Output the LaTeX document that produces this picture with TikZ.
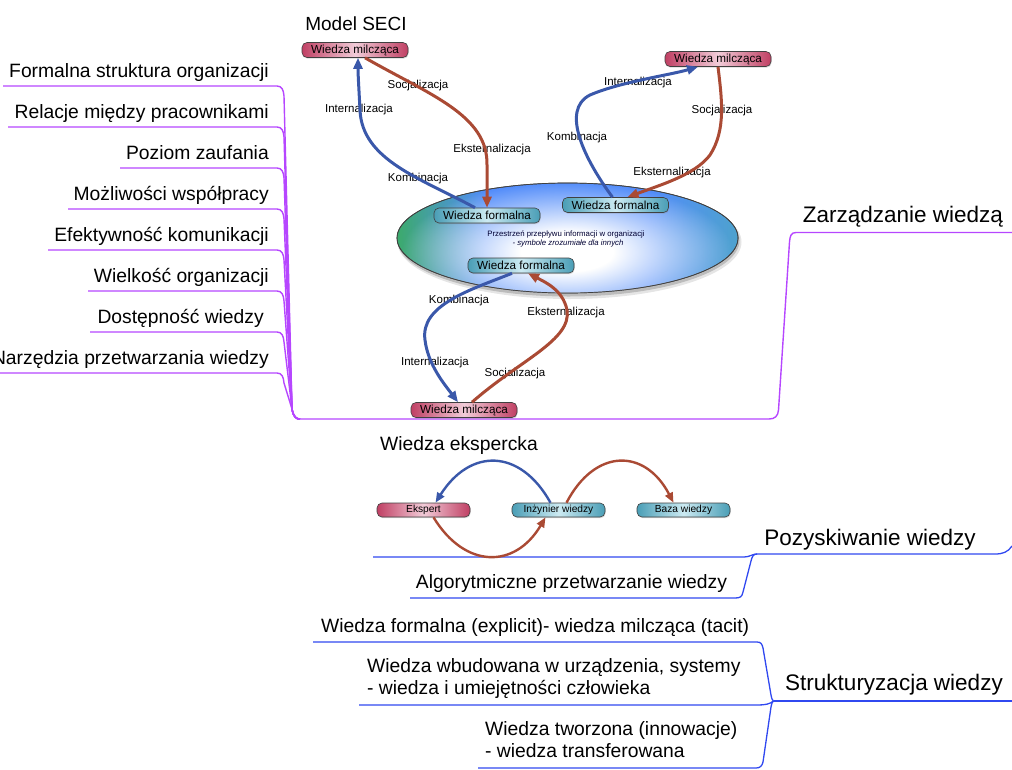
\documentclass[tikz,border=0pt]{standalone}
\usepackage{fontspec}
\setmainfont{Liberation Sans}
\usetikzlibrary{arrows.meta,shadows,fadings,shapes.geometric}

\definecolor{mmpurple}{RGB}{182,70,255}
\definecolor{mmblue}{RGB}{48,72,240}
\definecolor{arrblue}{RGB}{58,88,170}
\definecolor{arrred}{RGB}{170,74,52}
\definecolor{tacitdark}{RGB}{192,64,100}
\definecolor{tacitlight}{RGB}{242,204,216}
\definecolor{explicitdark}{RGB}{74,158,182}
\definecolor{explicitlight}{RGB}{204,234,242}
\definecolor{ellgreen}{RGB}{60,170,108}
\definecolor{ellblue}{RGB}{82,140,250}
\definecolor{ellteal}{RGB}{78,162,206}

\pgfdeclarehorizontalshading{spaceshade}{100bp}{color(0bp)=(ellgreen); color(25bp)=(ellgreen); color(38bp)=(ellblue); color(62bp)=(ellblue); color(75bp)=(ellteal); color(100bp)=(ellteal)}
% radial mask: opaque core, soft falloff towards the rim
\pgfdeclareradialshading{glowmask}{\pgfpointorigin}{color(0bp)=(pgftransparent!0); color(7bp)=(pgftransparent!0); color(25bp)=(pgftransparent!100); color(50bp)=(pgftransparent!100)}
\pgfdeclarefading{glow}{\pgfuseshading{glowmask}}

\newcommand\leaffont{\fontsize{19.3}{23}\selectfont}
\newcommand\headfont{\fontsize{22.5}{27}\selectfont}
\newcommand\cardfont{\fontsize{11.7}{14}\selectfont}
\newcommand\smallcardfont{\fontsize{10.2}{12}\selectfont}
\newcommand\flowfont{\fontsize{11.5}{14}\selectfont}
\newcommand\notefont{\fontsize{7.8}{9}\selectfont}

\tikzset{
  leaf/.style={font=\leaffont, inner sep=0pt},
  head/.style={font=\headfont, inner sep=0pt},
  card/.style={draw=black!75, line width=0.6pt, rounded corners=5pt,
    minimum height=15pt, minimum width=106pt, inner sep=0pt, font=\cardfont,
    drop shadow={shadow xshift=0.6pt, shadow yshift=-1.2pt, opacity=0.3}},
  smallcard/.style={card, minimum height=14pt, minimum width=93pt, font=\smallcardfont},
  tacit/.style={left color=tacitdark, right color=tacitdark, middle color=tacitlight},
  explicit/.style={left color=explicitdark, right color=explicitdark, middle color=explicitlight},
  flowlbl/.style={font=\flowfont, inner sep=0pt},
  bflow/.style={draw=arrblue, line width=3pt, -{Triangle[length=11pt,width=9pt]}},
  rflow/.style={draw=arrred, line width=3pt, -{Triangle[length=11pt,width=9pt]}},
  bflowthin/.style={draw=arrblue, line width=2.4pt, -{Triangle[length=10pt,width=8pt]}},
  rflowthin/.style={draw=arrred, line width=2.4pt, -{Triangle[length=10pt,width=8pt]}},
  pline/.style={draw=mmpurple, line width=1.4pt},
  bline/.style={draw=mmblue, line width=1.3pt},
}

\begin{document}
\begin{tikzpicture}[x=1pt,y=-1pt]
\useasboundingbox (0,0) rectangle (1012,769);

% ---------- Zarzadzanie wiedza : purple branch ----------
\node[head, anchor=base] (zw) at (903,222) {Zarządzanie wiedzą};
\coordinate (hub) at (300,419);
\draw[pline] (1012,232.5) -- (796,232.5) .. controls (791,232.5) and (790,236) .. (789.5,242)
  -- (778.5,410) .. controls (778,416) and (775,419) .. (769,419) -- (hub);

\node[leaf, anchor=base east] (f1) at (269,77)  {Formalna struktura organizacji};
\node[leaf, anchor=base east] (f2) at (269,118) {Relacje między pracownikami};
\node[leaf, anchor=base east] (f3) at (269,159) {Poziom zaufania};
\node[leaf, anchor=base east] (f4) at (269,200) {Możliwości współpracy};
\node[leaf, anchor=base east] (f5) at (269,241) {Efektywność komunikacji};
\node[leaf, anchor=base east] (f6) at (269,282) {Wielkość organizacji};
\node[leaf, anchor=base east] (f7) at (264,323) {Dostępność wiedzy};
\node[leaf, anchor=base east] (f8) at (269,364) {Narzędzia przetwarzania wiedzy};

\foreach \x/\y in {3/86, 8/127, 120/168, 68/209, 48/250, 88/291, 90/332, 0/373}{
  \draw[pline] (\x,\y) -- (277,\y) .. controls (282,\y) and (283.5,\y+4) .. (284,\y+10)
    -- (292,409) .. controls (293.5,417) and (296,419) .. (hub);
}

% ---------- SECI model ----------
\node[font=\fontsize{19}{23}\selectfont, inner sep=0pt, anchor=base] (seci) at (356,30) {Model SECI};

% knowledge space
\fill[black, opacity=0.10] (569.5,242) ellipse [x radius=172, y radius=57];
\fill[black, opacity=0.18] (568.5,240.5) ellipse [x radius=171, y radius=56];
\node[ellipse, draw=black!75, line width=0.7pt, shading=spaceshade,
      minimum width=341pt, minimum height=110pt, inner sep=0pt] (space) at (567.5,238) {};
\begin{scope}
  \clip (567.5,238) ellipse [x radius=170, y radius=55];
  \fill[white, path fading=glow] (567,252) ellipse [x radius=165, y radius=70];
\end{scope}
\draw[black!75, line width=0.7pt] (space.center) ellipse [x radius=170.5, y radius=55];
\node[font=\notefont, text=black!80!blue, inner sep=0pt] (sp1) at (566,234) {Przestrzeń przepływu informacji w organizacji};
\node[font=\notefont\itshape, text=black!80!blue, inner sep=0pt] (sp2) at (568,243) {- symbole zrozumiałe dla innych};

% cards
\node[card, tacit]    (tl) at (355,50)    {Wiedza milcząca};
\node[card, tacit]    (tr) at (718,59)    {Wiedza milcząca};
\node[card, tacit]    (bm) at (464,410)   {Wiedza milcząca};
\node[card, explicit] (fa) at (487,215.5) {Wiedza formalna};
\node[card, explicit] (fb) at (615.5,205) {Wiedza formalna};
\node[card, explicit] (fc) at (521,265.5) {Wiedza formalna};

% flow labels
\node[flowlbl] (s1) at (418,86)  {Socjalizacja};
\node[flowlbl] (i1) at (359,110) {Internalizacja};
\node[flowlbl] (e1) at (492,150) {Eksternalizacja};
\node[flowlbl] (k1) at (418,179) {Kombinacja};
\node[flowlbl] (i2) at (638,83)  {Internalizacja};
\node[flowlbl] (s2) at (722,111) {Socjalizacja};
\node[flowlbl] (k2) at (577,138) {Kombinacja};
\node[flowlbl] (e2) at (672,173) {Eksternalizacja};
\node[flowlbl] (k3) at (459,301) {Kombinacja};
\node[flowlbl] (e3) at (566,313) {Eksternalizacja};
\node[flowlbl] (i3) at (435,363) {Internalizacja};
\node[flowlbl] (s3) at (515,374) {Socjalizacja};

% flows
\draw[bflow] ([xshift=-12pt]fa.north) .. controls (420,178) and (362,160) .. (360,110)
  .. controls (359,90) and (358,75) .. ([xshift=3pt]tl.south);
\draw[rflow] ([xshift=10pt]tl.south) .. controls (430,95) and (488,115) .. (487,165) -- (fa.north);

\draw[bflow] ([xshift=-3pt]fb.north) .. controls (585,160) and (560,110) .. (590,95)
  .. controls (620,82) and (670,75) .. ([xshift=-20pt]tr.south);
\draw[rflow] (tr.south) .. controls (722,100) and (726,130) .. (710,155)
  .. controls (695,175) and (660,185) .. ([xshift=12pt]fb.north);

\draw[bflow] ([xshift=-9pt]fc.south) .. controls (470,290) and (420,305) .. (425,340)
  .. controls (428,365) and (445,385) .. ([xshift=-6pt]bm.north);
\draw[rflow] ([xshift=8pt]bm.north) .. controls (520,360) and (572,340) .. (567,310)
  .. controls (563,290) and (545,282) .. ([xshift=7pt]fc.south);

% ---------- Pozyskiwanie wiedzy : blue branch ----------
\node[head, anchor=base] (pw) at (870,545) {Pozyskiwanie wiedzy};
\coordinate (jp) at (757,554);
\draw[bline] (1012,546) .. controls (1008,552) and (1003,554) .. (995,554) -- (jp);
\draw[bline] (jp) .. controls (752,554) and (750,557) .. (744,557) -- (373,557);
\draw[bline] (jp) .. controls (753,554) and (752,557) .. (751,561) -- (743,592)
  .. controls (742,597) and (740,598) .. (735,598) -- (410,598);

\node[leaf, anchor=base] (we) at (459,450) {Wiedza ekspercka};
\node[leaf, anchor=base] (ap) at (571.5,588) {Algorytmiczne przetwarzanie wiedzy};

\node[smallcard, tacit]    (eks)  at (423.5,510) {Ekspert};
\node[smallcard, explicit] (inz)  at (558.5,510) {Inżynier wiedzy};
\node[smallcard, explicit] (baza) at (683.5,510) {Baza wiedzy};

\draw[bflowthin] ([xshift=-8pt]inz.north) .. controls (520,448) and (470,448) .. ([xshift=12pt]eks.north);
\draw[rflowthin] ([xshift=10pt]eks.south) .. controls (465,569) and (515,569) .. ([xshift=-13pt]inz.south);
\draw[rflowthin] ([xshift=8pt]inz.north) .. controls (595,448) and (645,448) .. ([xshift=-10pt]baza.north);

% ---------- Strukturyzacja wiedzy : blue branch ----------
\node[head, anchor=base] (sw) at (894,690) {Strukturyzacja wiedzy};
\coordinate (js) at (773.5,701);
\draw[bline] (1012,701) -- (js);
\draw[bline] (313,642) -- (757,642) .. controls (761,642) and (762,644) .. (763,648)
  -- (771,695) .. controls (772,699.5) .. (js);
\draw[bline] (359,705) -- (758,705) .. controls (765,705) and (770,704) .. (js);
\draw[bline] (478,768) -- (756,768) .. controls (760,768) and (762,766) .. (763,762)
  -- (771,707) .. controls (772,702.5) .. (js);

\node[leaf, anchor=base west] (t1) at (321,632) {Wiedza formalna (explicit)- wiedza milcząca (tacit)};
\node[leaf, anchor=base west] (t2a) at (367,672) {Wiedza wbudowana w urządzenia, systemy};
\node[leaf, anchor=base west] (t2b) at (367,694) {- wiedza i umiejętności człowieka};
\node[leaf, anchor=base west] (t3a) at (485,735) {Wiedza tworzona (innowacje)};
\node[leaf, anchor=base west] (t3b) at (485,757) {- wiedza transferowana};
\end{tikzpicture}
\end{document}
